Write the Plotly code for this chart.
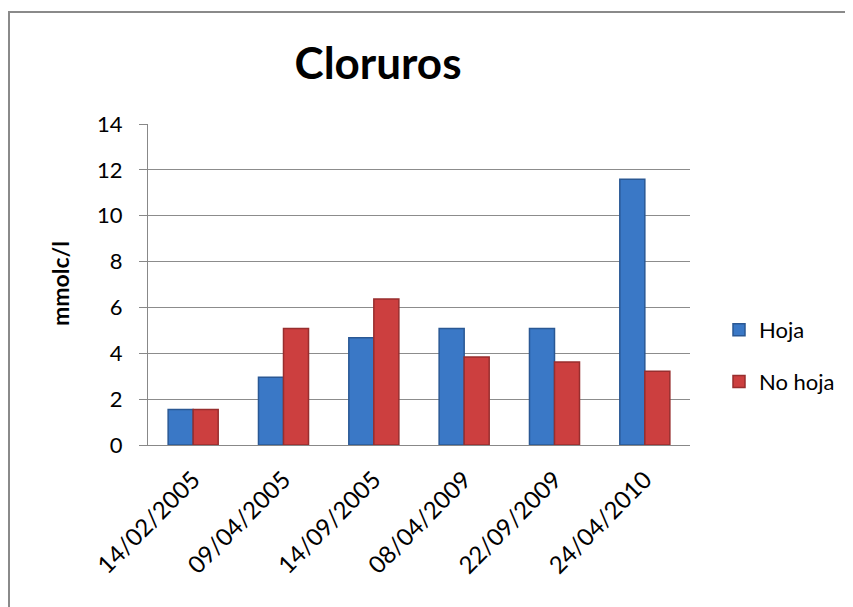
import plotly.graph_objects as go

categories = ["14/02/2005", "09/04/2005", "14/09/2005", "08/04/2009", "22/09/2009", "24/04/2010"]
hoja = [1.55, 2.96, 4.68, 5.08, 5.08, 11.59]
no_hoja = [1.55, 5.08, 6.37, 3.84, 3.62, 3.22]
y_ticks = [0, 2, 4, 6, 8, 10, 12, 14]

W, H = 853, 607
OFF = 8  # page offset (body margin)
L, R, T, B = 148 - OFF, 690 - OFF, 124 - OFF, 445 - OFF


def px_x(px):
    return (px - OFF - L) / (R - L)


def px_y(py):
    return (B - (py - OFF)) / (B - T)


font = "Lato, 'Open Sans', sans-serif"

fig = go.Figure()
fig.add_trace(go.Bar(name="Hoja", x=categories, y=hoja, legendgroup="a",
                     marker=dict(color="#3A78C6", line=dict(color="#2A5894", width=1.5))))
fig.add_trace(go.Bar(name="No hoja", x=categories, y=no_hoja, legendgroup="b",
                     marker=dict(color="#CC3F3F", line=dict(color="#982E2E", width=1.5))))

fig.update_layout(
    width=W, height=H,
    margin=dict(l=L, r=W - R, t=T, b=H - B, autoexpand=False),
    paper_bgcolor="white", plot_bgcolor="white",
    barmode="group", bargap=0.446, bargroupgap=0,
    font=dict(family=font, size=22, color="#000"),
    title=dict(text="<b>Cloruros</b>", x=(378 - OFF) / W, xanchor="center",
               y=1 - (64 - OFF) / H, yanchor="middle",
               font=dict(size=44, family=font, color="#000")),
    legend=dict(x=px_x(719), y=px_y(309), xanchor="left", yanchor="top",
                font=dict(size=22, family=font), traceorder="grouped",
                tracegroupgap=20, bgcolor="rgba(0,0,0,0)"),
    showlegend=True,
)
fig.update_xaxes(showline=True, linecolor="#888", linewidth=1, ticks="",
                 tickangle=-45, tickfont=dict(size=24, family=font), showgrid=False,
                 ticklabelstandoff=10)
fig.update_yaxes(range=[0, 14], tickvals=y_ticks, showline=True, linecolor="#888",
                 linewidth=1, ticks="outside", ticklen=8, tickcolor="#888",
                 gridcolor="#8c8c8c", gridwidth=1, zeroline=False,
                 ticklabelstandoff=12,
                 tickfont=dict(size=22, family=font))

fig.add_annotation(text="<b>mmolc/l</b>", xref="paper", yref="paper",
                   x=px_x(60), y=px_y(284), xanchor="center", yanchor="middle",
                   textangle=-90, showarrow=False,
                   font=dict(size=23, family=font, color="#000"))

fig.add_shape(type="rect", xref="paper", yref="paper",
              x0=px_x(9), x1=px_x(900), y0=px_y(700), y1=px_y(12),
              line=dict(color="#8a8a8a", width=2), fillcolor="rgba(0,0,0,0)", layer="below")

fig.write_html("out.html")
